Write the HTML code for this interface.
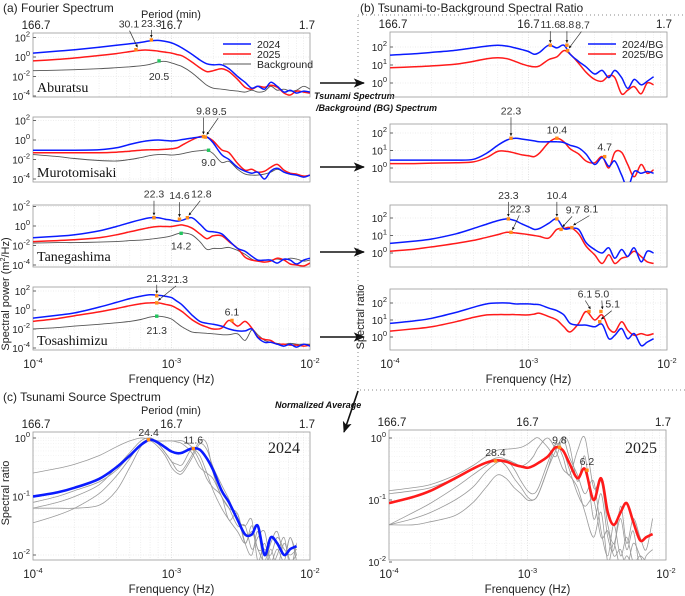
<!DOCTYPE html>
<html><head><meta charset="utf-8">
<style>
html,body{margin:0;padding:0;background:#fff;}
svg{display:block;font-family:"Liberation Sans",sans-serif;}
</style></head>
<body>
<svg id="fig" width="685" height="596" viewBox="0 0 685 596" xmlns="http://www.w3.org/2000/svg">
<defs>
<marker id="ah" viewBox="0 0 10 10" refX="9" refY="5" markerWidth="5" markerHeight="5" orient="auto"><path d="M0,0 L10,5 L0,10 z" fill="#111"/></marker>
<marker id="ahs" viewBox="0 0 10 10" refX="9" refY="5" markerWidth="4" markerHeight="4" orient="auto"><path d="M0,0 L10,5 L0,10 z" fill="#111"/></marker>
<marker id="big" viewBox="0 0 12 10" refX="11" refY="5" markerWidth="7" markerHeight="6" orient="auto"><path d="M0,0 L12,5 L0,10 L3,5 z" fill="#111"/></marker>
</defs>
<text x="3" y="12" font-size="12" fill="#222">(a) Fourier Spectrum</text>
<text x="360" y="12" font-size="12" fill="#222">(b) Tsunami-to-Background Spectral Ratio</text>
<text x="3" y="401" font-size="12" fill="#222">(c) Tsunami Source Spectrum</text>
<text x="171" y="18" font-size="11" text-anchor="middle" fill="#222">Period (min)</text>
<text x="171" y="414" font-size="11" text-anchor="middle" fill="#222">Period (min)</text>
<rect x="358" y="15" width="330" height="375" fill="none" stroke="#888" stroke-dasharray="1,3"/>
<g stroke="#111" stroke-width="1.6">
<line x1="320" y1="83" x2="364" y2="83" marker-end="url(#big)"/>
<line x1="320" y1="167" x2="364" y2="167" marker-end="url(#big)"/>
<line x1="320" y1="252" x2="364" y2="252" marker-end="url(#big)"/>
<line x1="320" y1="337" x2="364" y2="337" marker-end="url(#big)"/>
<line x1="358" y1="391" x2="344" y2="432" marker-end="url(#big)"/>
</g>
<text x="314" y="99" font-size="9" font-weight="bold" font-style="italic" fill="#111">Tsunami Spectrum</text>
<text x="316" y="111" font-size="9" font-weight="bold" font-style="italic" fill="#111">/Background (BG) Spectrum</text>
<text x="275" y="408" font-size="9" font-weight="bold" font-style="italic" fill="#111">Normalized Average</text>
<text transform="translate(9,294) rotate(-90)" font-size="11" text-anchor="middle" fill="#222">Spectral power (m<tspan dy="-4" font-size="7">2</tspan><tspan dy="4">/Hz)</tspan></text>
<text transform="translate(364,317) rotate(-90)" font-size="11" text-anchor="middle" fill="#222">Spectral ratio</text>
<text transform="translate(9,493) rotate(-90)" font-size="11" text-anchor="middle" fill="#222">Spectral ratio</text>
<g id="plots"></g>
</svg>
<script>
// shared frequency grid (Hz)
const freqs = [1e-4,1.5e-4,2e-4,3e-4,4e-4,5e-4,6e-4,7e-4,8e-4,9e-4,1e-3,1.1e-3,1.2e-3,1.4e-3,1.6e-3,1.8e-3,2e-3,2.3e-3,2.6e-3,3e-3,3.4e-3,3.8e-3,4.2e-3,4.7e-3,5.2e-3,5.8e-3,6.5e-3,7.2e-3,8e-3,9e-3,1e-2];
const periodTicks = ["166.7","16.7","1.7"];
const freqTickExp = ["-4","-3","-2"];
// (a) Fourier spectra, log10 power
const aburatsu2024 = [0.4,0.6,0.75,1.0,1.2,1.35,1.5,1.65,1.7,1.6,1.45,1.2,0.9,0.3,-0.3,-0.7,-0.8,-0.8,-1.2,-2.0,-2.6,-3.2,-3.0,-3.3,-2.6,-3.0,-3.6,-3.4,-3.7,-3.5,-3.6];
const aburatsu2025 = [-0.4,-0.25,-0.1,0.15,0.35,0.55,0.7,0.7,0.6,0.5,0.4,0.25,0.1,-0.5,-1.1,-1.5,-1.4,-1.2,-1.5,-2.3,-3.1,-3.3,-3.0,-3.1,-2.9,-3.1,-3.7,-3.9,-3.5,-3.6,-3.7];
const aburatsuBG = [-1.4,-1.35,-1.3,-1.2,-1.1,-1.0,-0.9,-0.75,-0.5,-0.45,-0.6,-0.8,-1.0,-1.6,-2.3,-2.9,-3.2,-3.3,-3.4,-3.5,-3.6,-3.4,-3.6,-3.5,-3.0,-3.4,-3.3,-3.5,-3.4,-3.0,-3.3];
const muroto2024 = [-1.05,-1.05,-1.05,-1.0,-0.8,-0.45,-0.2,-0.05,0.0,-0.05,-0.1,-0.05,0.05,0.2,0.3,0.3,-0.3,-1.5,-2.0,-2.8,-3.2,-3.4,-3.3,-4.0,-3.2,-2.9,-3.3,-3.5,-3.6,-3.8,-3.6];
const muroto2025 = [-1.3,-1.3,-1.3,-1.3,-1.25,-1.15,-1.05,-1.0,-1.0,-0.95,-0.9,-0.8,-0.5,0.0,0.35,0.3,-0.1,-1.0,-1.3,-2.4,-3.1,-3.0,-3.3,-3.2,-2.8,-2.5,-3.1,-3.4,-3.5,-3.7,-3.6];
const murotoBG = [-1.5,-1.7,-1.9,-2.1,-2.15,-2.0,-1.8,-1.6,-1.5,-1.5,-1.55,-1.5,-1.4,-1.2,-1.1,-1.05,-1.4,-2.3,-2.2,-3.0,-3.5,-3.6,-3.6,-3.5,-3.3,-3.0,-3.3,-3.5,-3.6,-3.7,-3.6];
const tane2024 = [-1.2,-1.05,-0.9,-0.5,-0.05,0.35,0.65,0.85,0.85,0.7,0.6,0.5,0.6,0.85,0.2,-0.5,-0.6,-0.8,-1.5,-2.3,-2.6,-3.1,-3.5,-3.5,-3.5,-3.8,-3.4,-3.5,-3.9,-3.5,-3.3];
const tane2025 = [-1.6,-1.5,-1.4,-1.2,-0.9,-0.6,-0.35,-0.15,-0.05,-0.05,-0.05,0.05,0.1,-0.2,-0.8,-1.3,-1.0,-1.0,-1.6,-2.3,-3.2,-3.5,-3.6,-3.7,-3.6,-3.3,-3.5,-3.9,-4.0,-4.1,-3.8];
const taneBG = [-1.75,-1.7,-1.7,-1.65,-1.6,-1.5,-1.45,-1.35,-1.25,-1.15,-1.0,-0.8,-0.7,-0.9,-1.6,-2.4,-2.3,-2.3,-2.2,-2.5,-2.9,-3.4,-3.6,-3.5,-3.5,-3.4,-3.5,-3.3,-3.4,-3.6,-3.5];
const tosa2024 = [-0.85,-0.55,-0.3,0.3,0.8,1.2,1.45,1.6,1.55,1.45,1.3,0.9,0.5,-0.5,-1.2,-1.4,-1.5,-1.7,-2.0,-2.2,-2.2,-2.0,-2.9,-3.4,-3.4,-3.6,-3.8,-3.6,-3.9,-3.6,-3.8];
const tosa2025 = [-1.2,-0.9,-0.6,-0.2,0.15,0.45,0.65,0.75,0.75,0.6,0.45,0.15,-0.2,-1.0,-1.5,-1.8,-2.0,-1.9,-1.1,-1.7,-1.2,-1.9,-2.8,-3.1,-3.2,-3.6,-3.6,-3.7,-3.7,-3.8,-3.7];
const tosaBG = [-2.0,-1.85,-1.7,-1.5,-1.35,-1.2,-1.0,-0.75,-0.65,-0.75,-0.95,-1.4,-1.8,-2.3,-2.4,-2.45,-2.5,-2.6,-2.6,-2.5,-3.2,-2.1,-2.6,-3.2,-3.4,-3.5,-3.6,-3.5,-3.6,-3.6,-3.6];
// (b) ratios, log10
const rAbu2024 = [1.55,1.62,1.7,1.82,1.95,2.05,2.1,2.05,1.95,1.85,1.75,1.6,1.7,2.1,1.95,2.1,1.6,1.2,0.9,0.5,0.7,0.3,0.7,0.3,-0.3,0.2,-0.1,0.1,0.35,null,null];
const rAbu2025 = [0.85,0.9,0.95,1.05,1.2,1.35,1.4,1.35,1.2,1.05,0.95,0.9,0.95,1.3,1.45,1.8,1.6,1.1,0.6,0.2,0.1,0.4,0.3,-0.6,-0.4,-0.2,-0.6,0.0,-0.1,null,null];
const rMur2024 = [0.45,0.45,0.45,0.45,0.5,0.85,1.3,1.6,1.7,1.65,1.6,1.55,1.5,1.5,1.5,1.45,1.3,1.15,0.8,0.2,0.6,0.1,0.4,-0.4,-1.1,-0.2,-0.3,-0.2,-0.3,null,null];
const rMur2025 = [0.25,0.25,0.28,0.3,0.35,0.6,0.95,0.95,0.85,0.75,0.7,0.65,0.85,1.45,1.7,1.5,1.1,0.8,0.4,0.3,0.65,0.0,0.9,0.9,0.2,-0.5,0.2,-0.3,-0.1,null,null];
const rTan2024 = [0.55,0.68,0.8,1.1,1.4,1.65,1.85,1.95,1.85,1.65,1.5,1.35,1.4,1.7,1.95,1.4,1.4,1.35,0.6,0.2,0.0,0.3,-0.3,0.2,-0.2,0.3,-0.5,0.1,0.0,null,null];
const rTan2025 = [0.1,0.22,0.35,0.55,0.72,0.9,1.05,1.18,1.15,1.1,1.05,1.0,0.95,0.85,1.35,1.4,1.45,1.1,0.4,-0.1,-0.6,-0.1,-0.6,-0.3,-0.2,0.1,-0.2,-0.5,-0.6,null,null];
const rTos2024 = [0.8,0.95,1.1,1.45,1.75,1.95,2.0,2.0,1.95,1.95,1.95,1.92,1.9,1.7,1.55,1.3,0.8,0.7,0.7,0.6,0.75,-0.1,0.1,0.5,-0.1,0.2,-0.5,-0.3,-0.1,null,null];
const rTos2025 = [0.35,0.48,0.6,0.9,1.15,1.3,1.32,1.32,1.32,1.3,1.3,1.35,1.4,1.2,1.0,0.6,0.3,0.8,1.5,1.0,1.3,0.5,0.3,0.9,0.4,0.1,0.2,0.1,0.2,null,null];
// (c) normalized source spectra, log10
const src2024 = [-1.0,-0.93,-0.85,-0.7,-0.5,-0.3,-0.12,-0.03,-0.08,-0.16,-0.23,-0.26,-0.25,-0.18,-0.2,-0.35,-0.55,-0.9,-1.1,-1.4,-1.65,-1.65,-1.5,-2.0,-1.7,-1.8,-2.0,-1.9,-1.85,null,null];
const st2024a = [-0.6,-0.52,-0.45,-0.3,-0.15,-0.05,0.0,-0.02,-0.05,-0.05,-0.05,-0.05,-0.05,-0.15,-0.3,-0.6,-0.9,-1.2,-1.4,-1.6,-1.8,-1.6,-1.9,-2.1,-1.8,-1.6,-2.0,-1.7,-2.0,null,null];
const st2024b = [-1.2,-1.1,-1.0,-0.8,-0.5,-0.25,-0.05,0.0,-0.1,-0.25,-0.4,-0.55,-0.55,-0.3,-0.05,-0.1,-0.6,-1.0,-1.2,-1.3,-1.8,-1.5,-1.9,-1.9,-2.0,-1.7,-1.9,-2.0,-1.9,null,null];
const st2024c = [-1.2,-1.2,-1.2,-1.15,-0.9,-0.5,-0.15,0.0,-0.1,-0.25,-0.4,-0.45,-0.45,-0.2,-0.4,-0.7,-0.85,-1.0,-1.4,-1.3,-1.8,-2.0,-1.6,-2.2,-1.9,-2.2,-1.8,-2.1,-2.0,null,null];
const st2024d = [-1.45,-1.32,-1.2,-0.95,-0.65,-0.35,-0.1,-0.02,-0.05,-0.05,-0.05,-0.07,-0.1,-0.25,-0.5,-0.6,-0.7,-1.0,-1.2,-1.5,-1.5,-1.9,-1.7,-1.6,-2.1,-1.9,-2.1,-1.7,-2.1,null,null];
const st2024e = [-1.1,-1.0,-0.9,-0.75,-0.55,-0.3,-0.1,-0.05,-0.15,-0.3,-0.5,-0.6,-0.6,-0.35,-0.1,-0.2,-0.5,-0.8,-1.05,-1.4,-1.5,-1.4,-2.1,-1.8,-2.2,-2.0,-1.7,-2.2,-1.8,null,null];
const src2025 = [-1.05,-0.95,-0.85,-0.65,-0.5,-0.4,-0.36,-0.38,-0.43,-0.46,-0.48,-0.45,-0.4,-0.3,-0.15,-0.2,-0.4,-0.65,-0.5,-1.0,-0.65,-1.2,-1.4,-1.2,-1.05,-1.35,-1.65,-1.6,-1.55,null,null];
const st2025a = [-0.85,-0.8,-0.75,-0.6,-0.45,-0.3,-0.2,-0.18,-0.17,-0.15,-0.1,-0.03,0.0,-0.15,-0.3,0.0,-0.1,-0.7,-0.3,-1.3,-0.9,-1.6,-1.8,-1.1,-1.7,-1.3,-1.6,-1.8,-1.3,null,null];
const st2025b = [-0.9,-0.85,-0.8,-0.65,-0.5,-0.4,-0.32,-0.35,-0.5,-0.7,-0.85,-0.9,-0.8,-0.4,-0.1,-0.3,-0.6,-0.2,0.0,-0.8,-0.7,-1.4,-1.7,-1.3,-1.8,-1.5,-2.1,-1.9,-1.8,null,null];
const st2025c = [-1.4,-1.2,-1.05,-0.8,-0.6,-0.45,-0.35,-0.45,-0.65,-0.8,-0.95,-1.0,-0.9,-0.5,-0.1,-0.2,-0.5,-0.9,-1.1,-1.0,-1.6,-1.5,-1.9,-1.8,-2.1,-1.7,-1.9,-2.1,-2.0,null,null];
const st2025d = [-1.4,-1.4,-1.35,-1.25,-1.05,-0.8,-0.6,-0.65,-0.8,-0.9,-1.0,-1.0,-0.9,-0.5,-0.2,0.0,-0.3,-0.6,-0.9,-0.7,-1.5,-1.9,-1.4,-1.9,-1.6,-2.0,-1.9,-2.0,-2.1,null,null];
const st2025e = [-1.4,-1.3,-1.2,-1.0,-0.8,-0.55,-0.4,-0.35,-0.4,-0.45,-0.4,-0.3,-0.15,0.0,-0.2,-0.5,-0.6,-0.8,-1.2,-1.6,-1.2,-2.0,-1.7,-2.1,-1.9,-2.1,-2.2,-2.0,-2.1,null,null];
// peak annotations: [period(min), log10 value, label]
const annA1 = [[30.1,0.75,"30.1"],[23.3,1.75,"23.3"],[20.5,-0.4,"20.5"]];
const annA2 = [[9.8,0.35,"9.8"],[9.5,0.3,"9.5"],[9.0,-1.05,"9.0"]];
const annA3 = [[22.3,0.85,"22.3"],[14.6,0.7,"14.6"],[12.8,0.85,"12.8"],[14.2,-0.75,"14.2"]];
const annA4 = [[21.3,1.5,"21.3"],[21.3,0.75,"21.3"],[21.3,-0.65,"21.3"],[6.1,-1.1,"6.1"]];
const annB1 = [[11.6,2.1,"11.6"],[8.8,2.1,"8.8"],[8.7,1.8,"8.7"]];
const annB2 = [[22.3,1.7,"22.3"],[10.4,1.7,"10.4"],[4.7,0.65,"4.7"]];
const annB3 = [[23.3,1.95,"23.3"],[22.3,1.18,"22.3"],[10.4,1.95,"10.4"],[9.7,1.35,"9.7"],[8.1,1.45,"8.1"]];
const annB4 = [[6.1,1.5,"6.1"],[5.0,1.5,"5.0"],[5.1,0.9,"5.1"]];
const annC1 = [[24.4,-0.03,"24.4"],[11.6,-0.18,"11.6"]];
const annC2 = [[28.4,-0.37,"28.4"],[9.8,-0.15,"9.8"],[6.2,-0.52,"6.2"]];

const NS="http://www.w3.org/2000/svg";
const root=document.getElementById('plots');
function el(tag,attrs,parent,txt){const e=document.createElementNS(NS,tag);for(const k in attrs)e.setAttribute(k,attrs[k]);if(txt!==undefined)e.textContent=txt;(parent||root).appendChild(e);return e;}
function supText(g,x,y,exp,anchor,fs){const t=el('text',{x:x,y:y,'font-size':fs||11,'text-anchor':anchor,fill:'#222'},g);t.appendChild(document.createTextNode('10'));const s=document.createElementNS(NS,'tspan');s.setAttribute('dy','-5');s.setAttribute('font-size','7.5');s.textContent=exp;t.appendChild(s);return t;}

let clipN=0;
function panel(P){
  const g=el('g',{});
  
  
  const X=f=>P.x0+(Math.log10(f)+4)/2*(P.x1-P.x0);
  const Y=v=>P.ya[1]+(v-P.ya[0])*(P.yb[1]-P.ya[1])/(P.yb[0]-P.ya[0]);
  const grid=el('g',{stroke:'#ddd','stroke-width':0.6,'stroke-dasharray':'1,1.5'},g);
  
  
  for(let d=-4;d<-2;d++)for(let m=1;m<10;m++){const x=X(m*Math.pow(10,d));if(x>P.x0+0.5&&x<P.x1-0.5)el('line',{x1:x,x2:x,y1:P.top,y2:P.bot,stroke:m==1?'#ccc':'#e2e2e2'},grid);}
  P.yt.forEach(t=>{const y=Y(t[0]);if(y>P.top+1&&y<P.bot-1)el('line',{x1:P.x0,x2:P.x1,y1:y,y2:y},grid);
    if(P.minorY){for(let m=2;m<10;m++){const yy=Y(t[0]+Math.log10(m));if(yy>P.top&&yy<P.bot&&yy<Y(t[0]))el('line',{x1:P.x0,x2:P.x1,y1:yy,y2:yy,stroke:'#eee'},grid);}}});
  const box=el('rect',{x:P.x0,y:P.top,width:P.x1-P.x0,height:P.bot-P.top,fill:'none',stroke:'#999','stroke-width':0.8},g);
  
  
  const yg=el('g',{},g);
  
  
  P.yt.forEach(t=>{const y=Y(t[0]);el('line',{x1:P.x0,x2:P.x0+3,y1:y,y2:y,stroke:'#666'},yg);supText(yg,P.x0-3,y+4,t[1],'end',10);});
  if(P.top_labels){const tg=el('g',{'font-size':11.5,fill:'#222','text-anchor':'middle'},g);
    
    
    [1e-4,1e-3,1e-2].forEach((f,i)=>el('text',{x:X(f)+(i==0?3:i==2?-3:0),y:P.top-4},tg,periodTicks[i]));}
  if(P.bottom_labels){const bg=el('g',{},g);
    
    
    [1e-4,1e-3,1e-2].forEach((f,i)=>supText(bg,X(f),P.bot+18,freqTickExp[i],'middle',11.5));
    const xt=el('text',{x:(P.x0+P.x1)/2,y:P.bot+33,'font-size':11.5,'text-anchor':'middle',fill:'#222'},g,'Frenquency (Hz)');
    
    }
  const cid='c'+(clipN++);
  const cp=el('clipPath',{id:cid},g);el('rect',{x:P.x0,y:P.top,width:P.x1-P.x0,height:P.bot-P.top},cp);
  const sg=el('g',{'clip-path':'url(#'+cid+')',fill:'none','stroke-linejoin':'round'},g);
  P.series.forEach(s=>{
    const pts=[];freqs.forEach((f,i)=>{if(s.v[i]!==null&&s.v[i]!==undefined)pts.push([X(f),Y(s.v[i])]);});
    let d='M'+pts[0][0].toFixed(1)+','+pts[0][1].toFixed(1);
    for(let i=0;i<pts.length-1;i++){const p0=pts[Math.max(0,i-1)],p1=pts[i],p2=pts[i+1],p3=pts[Math.min(pts.length-1,i+2)];
      const c1=[p1[0]+(p2[0]-p0[0])/6,p1[1]+(p2[1]-p0[1])/6],c2=[p2[0]-(p3[0]-p1[0])/6,p2[1]-(p3[1]-p1[1])/6];
      d+=' C'+c1[0].toFixed(1)+','+c1[1].toFixed(1)+' '+c2[0].toFixed(1)+','+c2[1].toFixed(1)+' '+p2[0].toFixed(1)+','+p2[1].toFixed(1);}
    const p=el('path',{d:d,stroke:s.c,'stroke-width':s.w},sg);
    
    
  });
  (P.ann||[]).forEach((a,i)=>{
    const f=1/(a[0]*60),x=X(f),y=Y(a[1]);const o=P.annOff[i];
    const ag=el('g',{},g);
    
    
    if(o[2])el('line',{x1:x+o[0]*0.92,y1:y+o[1]+3,x2:x+(o[0]?1.5:0),y2:y-2.5,stroke:'#333','stroke-width':0.7,'marker-end':'url(#ahs)'},ag);
    el('rect',{x:x-1.7,y:y-1.7,width:3.4,height:3.4,fill:o[3]||'#ff8c1a'},ag);
    el('text',{x:x+o[0],y:y+o[1]+(o[1]<0?0:8),'font-size':10.5,'text-anchor':'middle',fill:'#333'},ag,a[2]);
  });
  (P.labels||[]).forEach(l=>{const t=el('text',l.a,g,l.t);});
  return g;
}
const B='#0a1bff',R='#ff1a1a',K='#555',G='#9a9a9a',GR='#22c55e';
const aTicks=[[2,'2'],[0,'0'],[-2,'-2'],[-4,'-4']];
const bTicks=[[2,'2'],[1,'1'],[0,'0']];
const cTicks=[[0,'0'],[-1,'-1'],[-2,'-2']];
function station(name,x,y,id){return {t:name,n:id,a:{x:x,y:y,'font-size':14,'font-family':'Liberation Serif, serif',fill:'#111'}};}
function aSeries(b,r,k,st){return [{v:k,c:K,w:0.9,n:st+'-background-line'},{v:r,c:R,w:1.5,n:st+'-2025-line'},{v:b,c:B,w:1.5,n:st+'-2024-line'}];}
panel({name:'aburatsu-spectrum',x0:33,x1:310,top:33,bot:97,ya:[0,57],yb:[-4,96],yt:aTicks,top_labels:true,series:aSeries(aburatsu2024,aburatsu2025,aburatsuBG,'aburatsu'),
  ann:annA1,annOff:[[-7,-22,1],[0,-13,1],[0,11,0,GR]],labels:[station('Aburatsu',37,92,'station-label-aburatsu')]});
panel({name:'murotomisaki-spectrum',x0:33,x1:310,top:117,bot:182,ya:[0,140],yb:[-4,179],yt:aTicks,series:aSeries(muroto2024,muroto2025,murotoBG,'murotomisaki'),
  ann:annA2,annOff:[[0,-22,1],[14,-22,1],[0,8,0,GR]],labels:[station('Murotomisaki',37,177,'station-label-murotomisaki')]});
panel({name:'tanegashima-spectrum',x0:33,x1:310,top:205,bot:267,ya:[0,226],yb:[-4,265],yt:[[2,'-2'],[0,'0'],[-2,'-2'],[-4,'-4']],series:aSeries(tane2024,tane2025,taneBG,'tanegashima'),
  ann:annA3,annOff:[[0,-20,1],[0,-20,1],[14,-20,1],[0,8,0,GR]],labels:[station('Tanegashima',37,261,'station-label-tanegashima')]});
panel({name:'tosashimizu-spectrum',x0:33,x1:310,top:287,bot:350,ya:[0,310],yb:[-4,348],yt:aTicks,bottom_labels:true,series:aSeries(tosa2024,tosa2025,tosaBG,'tosashimizu'),
  ann:annA4,annOff:[[0,-14,1],[21,-20,1],[0,10,0,GR],[0,-5,0]],labels:[station('Tosashimizu',37,345,'station-label-tosashimizu')]});
function bSeries(b,r,st){return [{v:r,c:R,w:1.5,n:st+'-2025-ratio-line'},{v:b,c:B,w:1.5,n:st+'-2024-ratio-line'}];}
panel({name:'aburatsu-ratio',x0:390,x1:667,top:32,bot:97,ya:[0,83],yb:[2,47],yt:bTicks,top_labels:true,series:bSeries(rAbu2024,rAbu2025,'aburatsu'),
  ann:annB1,annOff:[[0,-17,1],[0,-17,1],[15,-22,1]]});
panel({name:'murotomisaki-ratio',x0:390,x1:667,top:124,bot:182,ya:[0,168],yb:[2,133],yt:bTicks,series:bSeries(rMur2024,rMur2025,'murotomisaki'),
  ann:annB2,annOff:[[0,-24,1],[0,-5,0],[0,-6,0]]});
panel({name:'tanegashima-ratio',x0:390,x1:667,top:205,bot:267,ya:[0,253],yb:[2,218],yt:bTicks,series:bSeries(rTan2024,rTan2025,'tanegashima'),
  ann:annB3,annOff:[[0,-20,1],[9,-20,1],[0,-20,1],[12,-16,1],[19,-15,1]]});
panel({name:'tosashimizu-ratio',x0:390,x1:667,top:289,bot:350,ya:[0,337],yb:[2,303],yt:bTicks,bottom_labels:true,series:bSeries(rTos2024,rTos2025,'tosashimizu'),
  ann:annB4,annOff:[[-4,-14,1],[1,-14,1],[13,-14,1]]});
function cSeries(main,col,grays,yr){const s=grays.map((v,i)=>({v:v,c:G,w:0.8,n:'station-'+(i+1)+'-'+yr+'-normalized-line'}));s.push({v:main,c:col,w:2.6,n:'average-'+yr+'-source-line'});return s;}
panel({name:'source-spectrum-2024',x0:33,x1:310,top:432,bot:560,ya:[0,438],yb:[-2,555],yt:cTicks,minorY:true,top_labels:true,bottom_labels:true,
  series:cSeries(src2024,B,[st2024a,st2024b,st2024c,st2024d,st2024e],'2024'),ann:annC1,annOff:[[0,-4,0],[0,-5,0]],
  labels:[{t:'2024',n:'year-label-2024',a:{x:300,y:453,'font-size':16,'font-family':'Liberation Serif, serif','text-anchor':'end',fill:'#222'}}]});
panel({name:'source-spectrum-2025',x0:389,x1:666,top:430,bot:560,ya:[0,438],yb:[-2,562],yt:cTicks,minorY:true,top_labels:true,bottom_labels:true,
  series:cSeries(src2025,R,[st2025a,st2025b,st2025c,st2025d,st2025e],'2025'),ann:annC2,annOff:[[0,-5,0],[0,-4,0],[0,-5,0]],
  labels:[{t:'2025',n:'year-label-2025',a:{x:657,y:453,'font-size':16,'font-family':'Liberation Serif, serif','text-anchor':'end',fill:'#222'}}]});
function legend(x,y,items,name){const g=el('g',{});
  items.forEach((it,i)=>{const e=el('g',{},g);
    el('line',{x1:x,x2:x+28,y1:y+i*10,y2:y+i*10,stroke:it[1],'stroke-width':it[2]},e);
    el('text',{x:x+34,y:y+i*10+4,'font-size':10.5,fill:'#222'},e,it[0]);});}
legend(223,44,[['2024',B,1.6],['2025',R,1.6],['Background',K,1]],'legend-a');
legend(588,44,[['2024/BG',B,1.6],['2025/BG',R,1.6]],'legend-b');
</script>
</body></html>
